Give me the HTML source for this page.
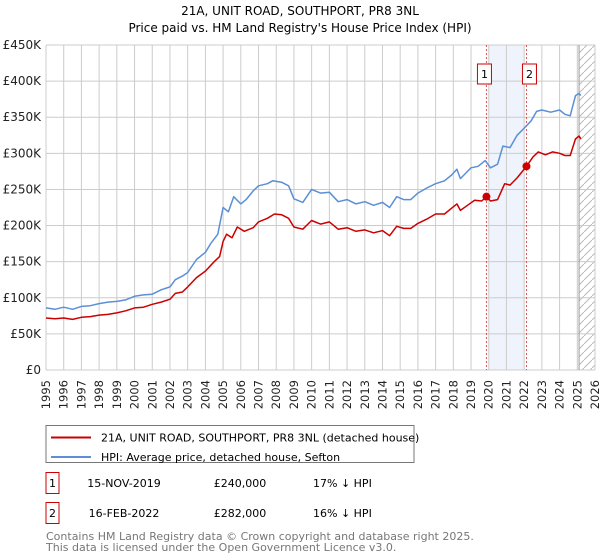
<!DOCTYPE html>
<html><head><meta charset="utf-8"><style>
body{margin:0;background:#fff;font-family:"Liberation Sans","DejaVu Sans",sans-serif}
#wrap{position:relative;width:600px;height:560px;overflow:hidden}
svg text{font-family:"DejaVu Sans","Liberation Sans",sans-serif}
</style></head><body>
<div id="wrap">
<svg id="chart" width="600" height="560"></svg>
</div>
<script>
const hpiYears=[1995,1995.5,1996,1996.5,1997,1997.5,1998,1998.5,1999,1999.5,2000,2000.5,2001,2001.5,2002,2002.3,2002.7,2003,2003.5,2004,2004.3,2004.7,2005,2005.3,2005.6,2006,2006.3,2006.7,2007,2007.5,2007.8,2008.3,2008.7,2009,2009.5,2010,2010.5,2011,2011.5,2012,2012.5,2013,2013.5,2014,2014.4,2014.8,2015.2,2015.6,2016,2016.5,2017,2017.5,2017.9,2018.2,2018.4,2018.8,2019,2019.4,2019.8,2020.1,2020.5,2020.8,2021.2,2021.6,2022,2022.4,2022.7,2023,2023.5,2024,2024.3,2024.6,2024.9,2025.1,2025.2];
const hpiValues=[86,84,87,84,88,89,92,94,95,97,102,104,105,111,115,125,130,135,153,163,175,188,225,219,240,230,236,248,255,258,262,260,255,237,232,250,245,246,233,236,230,233,228,232,225,240,236,236,245,252,258,262,270,278,265,275,280,282,290,280,285,310,308,325,335,345,358,360,357,360,354,352,380,383,380];
const priceYears=[1995,1995.5,1996,1996.5,1997,1997.5,1998,1998.5,1999,1999.5,2000,2000.5,2001,2001.5,2002,2002.3,2002.7,2003,2003.5,2004,2004.5,2004.8,2005,2005.2,2005.5,2005.8,2006.2,2006.7,2007,2007.5,2007.9,2008.3,2008.7,2009,2009.5,2010,2010.5,2011,2011.5,2012,2012.5,2013,2013.5,2014,2014.4,2014.8,2015.2,2015.6,2016,2016.5,2017,2017.5,2017.9,2018.2,2018.4,2018.8,2019.2,2019.6,2019.87,2020.1,2020.5,2020.9,2021.2,2021.6,2022.13,2022.5,2022.8,2023.2,2023.6,2024,2024.3,2024.6,2024.9,2025.1,2025.2];
const priceValues=[72,71,72,70,73,74,76,77,79,82,86,87,91,94,98,106,108,115,128,137,150,157,178,188,183,198,192,197,205,210,216,215,210,198,195,207,202,205,195,197,192,194,190,193,186,199,196,196,203,209,216,216,224,230,221,228,235,234,240,234,236,258,256,266,282,295,302,298,302,300,297,297,320,324,320];
const saleYears=[2019.87,2022.13];
const saleValues=[240,282];
const saleLabels=["1","2"];
const yTicks=[0,50,100,150,200,250,300,350,400,450];
const yTickLabels=["£0","£50K","£100K","£150K","£200K","£250K","£300K","£350K","£400K","£450K"];
const xTicks=[1995,1996,1997,1998,1999,2000,2001,2002,2003,2004,2005,2006,2007,2008,2009,2010,2011,2012,2013,2014,2015,2016,2017,2018,2019,2020,2021,2022,2023,2024,2025,2026];

const L=46,R=595,T=45,B=370;
const X=y=>L+(y-1995)/(2026-1995)*(R-L);
const Y=v=>B-v/450*(B-T);
const svg=document.getElementById('chart');
const NS='http://www.w3.org/2000/svg';
function mk(tag,a,parent){const e=document.createElementNS(NS,tag);for(const k in a)e.setAttribute(k,a[k]);(parent||svg).appendChild(e);return e;}
function txt(s,a){const e=mk('text',a);e.textContent=s;return e;}

let t=txt('21A, UNIT ROAD, SOUTHPORT, PR8 3NL',{x:300,y:15,'text-anchor':'middle','font-size':12});

t=txt("Price paid vs. HM Land Registry's House Price Index (HPI)",{x:300,y:32,'text-anchor':'middle','font-size':12});


let sh=mk('rect',{x:X(2020),y:T,width:X(2022)-X(2020),height:B-T,fill:'#eef3fc'});

const defs=mk('defs',{});
const pat=mk('pattern',{id:'hatch',width:8,height:8,patternUnits:'userSpaceOnUse'},defs);
mk('path',{d:'M0,8 L8,0',stroke:'#bbb','stroke-width':1},pat);
let hz=mk('rect',{x:X(2025.1),y:T,width:R-X(2025.1),height:B-T,fill:'url(#hatch)'});


const grid=mk('g',{stroke:'#cccccc','stroke-width':1});

yTicks.forEach((v,i)=>{
  mk('line',{x1:L,x2:R,y1:Y(v),y2:Y(v)},grid);
  const e=txt(yTickLabels[i],{x:L-5,y:Y(v)+4,'text-anchor':'end','font-size':12,fill:'#222'});
  
});
xTicks.forEach(y=>{
  mk('line',{x1:X(y),x2:X(y),y1:T,y2:B},grid);
  const e=txt(String(y),{x:0,y:0,'text-anchor':'end','font-size':11.5,fill:'#222',transform:'translate('+(X(y)+4).toFixed(1)+','+(B+10)+') rotate(-90)'});
  
});
mk('line',{x1:X(2025.1),x2:X(2025.1),y1:T,y2:B,stroke:'#999'});

saleYears.forEach((y,i)=>{
  const l=mk('line',{x1:X(y),x2:X(y),y1:T,y2:B,stroke:'#e05050','stroke-dasharray':'2,2','stroke-width':1});
  
  const bx=mk('rect',{x:X(y)-7-(i==0?2:-3),y:64,width:14,height:20,fill:'#fff',stroke:'#cc0000'});
  
  txt(saleLabels[i],{x:X(y)-(i==0?2:-3),y:78,'text-anchor':'middle','font-size':11});
});

function line(xs,vs,color,name){
  const d=xs.map((x,i)=>(i?'L':'M')+X(x).toFixed(1)+','+Y(vs[i]).toFixed(1)).join('');
  const p=mk('path',{d:d,fill:'none',stroke:color,'stroke-width':1.5,'stroke-linejoin':'round'});
  
}
line(hpiYears,hpiValues,'#5b8fd6','hpi-line');
line(priceYears,priceValues,'#cc0000','price-paid-line');
saleYears.forEach((y,i)=>{
  const c=mk('circle',{cx:X(y),cy:Y(saleValues[i]),r:4,fill:'#cc0000'});
  
});

const lg=mk('g',{});

mk('rect',{x:46,y:425.5,width:368,height:37,fill:'#fff',stroke:'#777'},lg);
mk('line',{x1:51,x2:91,y1:437.5,y2:437.5,stroke:'#cc0000','stroke-width':2},lg);
mk('line',{x1:51,x2:91,y1:457,y2:457,stroke:'#5b8fd6','stroke-width':2},lg);
t=txt('21A, UNIT ROAD, SOUTHPORT, PR8 3NL (detached house)',{x:101,y:441.5,'font-size':11});

t=txt('HPI: Average price, detached house, Sefton',{x:101,y:461,'font-size':11});


const rows=[["1","15-NOV-2019","£240,000","17% ↓ HPI",483],["2","16-FEB-2022","£282,000","16% ↓ HPI",513]];
rows.forEach(r=>{
  const g=mk('g',{});
  
  mk('rect',{x:46,y:r[4]-10.5,width:13,height:21,fill:'#fff',stroke:'#cc0000'},g);
  const a=[[52.5,'middle',r[0]],[124,'middle',r[1]],[240,'middle',r[2]],[313,'start',r[3]]];
  a.forEach(c=>{const e=mk('text',{x:c[0],y:r[4]+4,'text-anchor':c[1],'font-size':11},g);e.textContent=c[2];});
});
t=txt('Contains HM Land Registry data © Crown copyright and database right 2025.',{x:46,y:540,'font-size':11,fill:'#777'});

t=txt('This data is licensed under the Open Government Licence v3.0.',{x:46,y:551,'font-size':11,fill:'#777'});

</script>
</body></html>
